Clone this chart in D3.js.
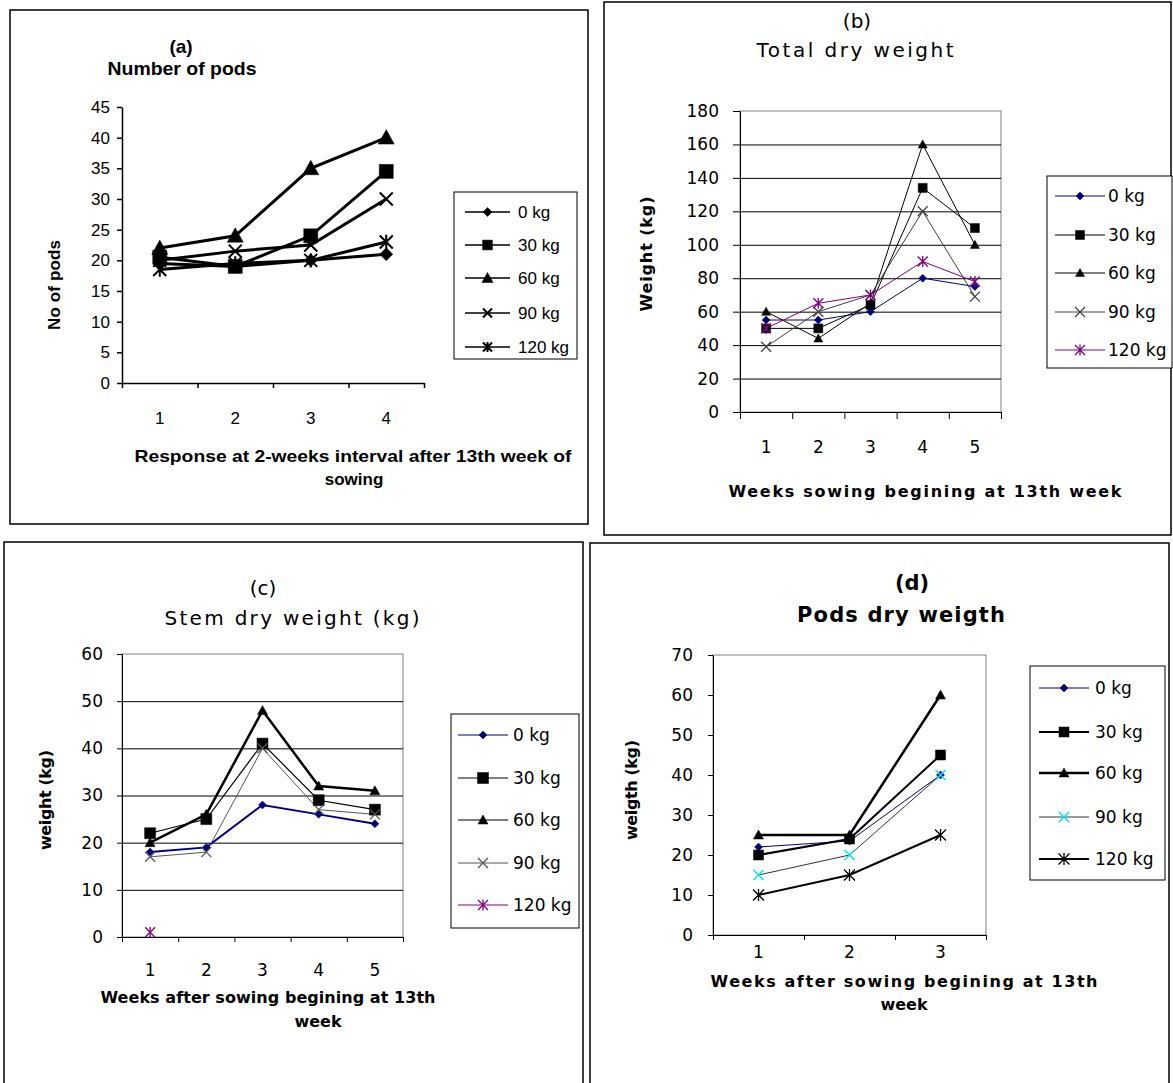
<!DOCTYPE html>
<html>
<head>
<meta charset="utf-8">
<title>Pods and dry weight response to fertiliser</title>
<script src="https://cdn.jsdelivr.net/npm/d3@7"></script>
<style>
body { margin: 0; background: #fff; }
</style>
</head>
<body>
<script>
var W = 1173, H = 1083;

// ---- data ----
var kgLabels = ["0 kg", "30 kg", "60 kg", "90 kg", "120 kg"];

var podsWeeks = ["1", "2", "3", "4"];
var pods0   = [19.5, 19, 20, 21];
var pods30  = [20.5, 19, 24, 34.5];
var pods60  = [22, 24, 35, 40];
var pods90  = [20, 21.5, 22.5, 30];
var pods120 = [18.5, 19.5, 20, 23];

var totalWeeks = ["1", "2", "3", "4", "5"];
var total0   = [55, 55, 60, 80, 75];
var total30  = [50, 50, 64, 134, 110];
var total60  = [60, 44, 65, 160, 100];
var total90  = [39, 60, 70, 120, 69];
var total120 = [50, 65, 70, 90, 78];

var stemWeeks = ["1", "2", "3", "4", "5"];
var stem0   = [18, 19, 28, 26, 24];
var stem30  = [22, 25, 41, 29, 27];
var stem60  = [20, 26, 48, 32, 31];
var stem90  = [17, 18, 40, 27, 26];
var stem120 = [1, null, null, null, null];

var podWtWeeks = ["1", "2", "3"];
var podWt0   = [22, 23.5, 40];
var podWt30  = [20, 24, 45];
var podWt60  = [25, 25, 60];
var podWt90  = [15, 20, 40];
var podWt120 = [10, 15, 25];

// ---- markers ----
var symDiamond = { draw: function(c, s) { var r = Math.sqrt(s) / 2; c.moveTo(0, -r); c.lineTo(r, 0); c.lineTo(0, r); c.lineTo(-r, 0); c.closePath(); } };
var symSquare = { draw: function(c, s) { var r = Math.sqrt(s) / 2; c.rect(-r, -r, 2 * r, 2 * r); } };
var symTriangle = { draw: function(c, s) { var r = Math.sqrt(s) / 2; c.moveTo(0, -r); c.lineTo(r, r * 0.8); c.lineTo(-r, r * 0.8); c.closePath(); } };
var symTimes = { draw: function(c, s) { var r = Math.sqrt(s) / 2; c.moveTo(-r, -r); c.lineTo(r, r); c.moveTo(-r, r); c.lineTo(r, -r); } };
var symStar = { draw: function(c, s) { var r = Math.sqrt(s) / 2; c.moveTo(-r, -r); c.lineTo(r, r); c.moveTo(-r, r); c.lineTo(r, -r); c.moveTo(0, -r * 1.1); c.lineTo(0, r * 1.1); } };
var symbols = [symDiamond, symSquare, symTriangle, symTimes, symStar];
var filled = [true, true, true, false, false];

var fNarrow = "'Liberation Sans Narrow','Liberation Sans',Arial,sans-serif";
var fSans = "'Liberation Sans',Arial,sans-serif";
var fDeja = "'DejaVu Sans',Verdana,sans-serif";

var svg = d3.select("body").append("svg")
    .attr("width", W).attr("height", H);

function addText(g, t) {
    var el = g.append("text")
        .attr("x", t.x).attr("y", t.y)
        .attr("text-anchor", "middle")
        .attr("font-family", t.font)
        .attr("font-size", t.size)
        .attr("font-weight", t.bold ? "bold" : "normal")
        .attr("fill", "#000")
        .text(t.text);
    if (t.rotate) el.attr("transform", "rotate(-90," + t.x + "," + t.y + ")");
    if (t.width) el.attr("textLength", t.width).attr("lengthAdjust", t.squeeze ? "spacingAndGlyphs" : "spacing");
}

function drawMarker(g, i, st, x, y, w) {
    g.append("path")
        .attr("transform", "translate(" + x + "," + y + ")")
        .attr("d", d3.symbol(symbols[i], w * w)())
        .attr("fill", filled[i] ? st.mcolor : "none")
        .attr("stroke", st.mcolor)
        .attr("stroke-width", filled[i] ? 0.5 : (st.mstroke || 1.3));
}

function panel(cfg) {
    var g = svg.append("g");
    var b = cfg.box;
    g.append("rect").attr("x", b[0]).attr("y", b[1]).attr("width", b[2] - b[0]).attr("height", b[3] - b[1])
        .attr("fill", "none").attr("stroke", "#000").attr("stroke-width", 1.5);

    var p = cfg.plot;
    var x = d3.scaleBand().domain(cfg.weeks).range([p[0], p[2]]);
    var xEdge = d3.scaleLinear().domain([0, cfg.weeks.length]).range([p[0], p[2]]);
    var y = d3.scaleLinear().domain([0, cfg.yMax]).range([p[3], p[1]]);
    var yTicks = d3.range(0, cfg.yMax + cfg.yStep / 2, cfg.yStep);

    if (cfg.frame) {
        g.append("rect").attr("x", p[0]).attr("y", p[1]).attr("width", p[2] - p[0]).attr("height", p[3] - p[1])
            .attr("fill", "none").attr("stroke", "#808080").attr("stroke-width", 1);
    }
    if (cfg.grid) {
        var gr = g.append("g").attr("transform", "translate(" + p[0] + ",0)")
            .call(d3.axisLeft(y).tickValues(yTicks.slice(1, -1)).tickSize(-(p[2] - p[0])).tickFormat(""));
        gr.select(".domain").remove();
        gr.selectAll("line").attr("stroke", "#000");
    }

    var ya = g.append("g").attr("transform", "translate(" + p[0] + ",0)")
        .call(d3.axisLeft(y).tickValues(yTicks).tickSize(cfg.tick).tickSizeOuter(0).tickPadding(cfg.yPad));
    ya.selectAll("text").attr("font-family", cfg.tickFont).attr("font-size", cfg.tickSizePx).attr("fill", "#000");
    ya.selectAll("line,path").attr("stroke", "#000").attr("stroke-width", cfg.axisW);

    var xe = g.append("g").attr("transform", "translate(0," + p[3] + ")")
        .call(d3.axisBottom(xEdge).tickValues(d3.range(cfg.weeks.length + 1)).tickFormat("").tickSize(cfg.tick).tickSizeOuter(0));
    xe.selectAll("line,path").attr("stroke", "#000").attr("stroke-width", cfg.axisW);

    var xl = g.append("g").attr("transform", "translate(0," + p[3] + ")")
        .call(d3.axisBottom(x).tickSize(0).tickPadding(cfg.xPad));
    xl.select(".domain").remove();
    xl.selectAll("text").attr("font-family", cfg.tickFont).attr("font-size", cfg.tickSizePx).attr("fill", "#000");

    cfg.texts.forEach(function(t) { addText(g, t); });

    var line = d3.line()
        .defined(function(d) { return d != null; })
        .x(function(d, i) { return x(cfg.weeks[i]) + x.bandwidth() / 2; })
        .y(function(d) { return y(d); });

    cfg.series.forEach(function(vals, i) {
        var st = cfg.styles[i];
        g.append("path").datum(vals).attr("d", line)
            .attr("fill", "none").attr("stroke", st.color).attr("stroke-width", st.width)
            .attr("stroke-linejoin", "miter");
    });
    cfg.series.forEach(function(vals, i) {
        var st = cfg.styles[i];
        vals.forEach(function(v, j) {
            if (v == null) return;
            drawMarker(g, i, st, x(cfg.weeks[j]) + x.bandwidth() / 2, y(v), st.msize);
        });
    });

    var L = cfg.legend;
    g.append("rect").attr("x", L.box[0]).attr("y", L.box[1]).attr("width", L.box[2] - L.box[0]).attr("height", L.box[3] - L.box[1])
        .attr("fill", "#fff").attr("stroke", "#000").attr("stroke-width", 1);
    kgLabels.forEach(function(lab, i) {
        var st = cfg.styles[i], ry = L.rows[i];
        g.append("line").attr("x1", L.line[0]).attr("x2", L.line[1]).attr("y1", ry).attr("y2", ry)
            .attr("stroke", st.color).attr("stroke-width", L.lw ? L.lw : st.width);
        drawMarker(g, i, st, (L.line[0] + L.line[1]) / 2, ry, st.msize * (L.scale || 1));
        g.append("text").attr("x", L.textX).attr("y", ry).attr("dy", "0.36em")
            .attr("font-family", L.font).attr("font-size", L.size).attr("fill", "#000").text(lab);
    });
}

// (a) Number of pods
panel({
    box: [10, 10, 588, 524],
    plot: [122, 107, 424, 383],
    weeks: podsWeeks, yMax: 45, yStep: 5,
    series: [pods0, pods30, pods60, pods90, pods120],
    grid: false, frame: false, tick: 5, yPad: 7, xPad: 29, axisW: 1.5,
    tickFont: fSans, tickSizePx: 17,
    styles: [
        { color: "#000", width: 3, mcolor: "#000", msize: 13 },
        { color: "#000", width: 3, mcolor: "#000", msize: 14 },
        { color: "#000", width: 3, mcolor: "#000", msize: 16 },
        { color: "#000", width: 3, mcolor: "#000", msize: 13, mstroke: 2 },
        { color: "#000", width: 3, mcolor: "#000", msize: 13, mstroke: 2 }
    ],
    texts: [
        { text: "(a)", x: 181, y: 53, size: 19, bold: true, font: fNarrow },
        { text: "Number of pods", x: 182, y: 75, size: 19, bold: true, font: fNarrow, width: 149, squeeze: true },
        { text: "No of pods", x: 60, y: 285, size: 17, bold: true, font: fSans, rotate: true, width: 90 },
        { text: "Response at 2-weeks interval after 13th week of", x: 353, y: 462, size: 17, bold: true, font: fNarrow, width: 437, squeeze: true },
        { text: "sowing", x: 354, y: 485, size: 17, bold: true, font: fNarrow }
    ],
    legend: { box: [454, 192, 577, 359], rows: [212, 245, 278, 313, 347], line: [465, 510], textX: 518,
              font: fSans, size: 17, lw: 1.5, scale: 0.7 }
});

// (b) Total dry weight
panel({
    box: [604, 2, 1171, 535],
    plot: [740, 111, 1001, 412],
    weeks: totalWeeks, yMax: 180, yStep: 20,
    series: [total0, total30, total60, total90, total120],
    grid: true, frame: true, tick: 7, yPad: 14, xPad: 29, axisW: 1,
    tickFont: fDeja, tickSizePx: 17,
    styles: [
        { color: "#000080", width: 1, mcolor: "#000080", msize: 8 },
        { color: "#000", width: 1, mcolor: "#000", msize: 9 },
        { color: "#000", width: 1, mcolor: "#000", msize: 9 },
        { color: "#404040", width: 1, mcolor: "#404040", msize: 10 },
        { color: "#800080", width: 1, mcolor: "#800080", msize: 10 }
    ],
    texts: [
        { text: "(b)", x: 857, y: 28, size: 20, font: fDeja },
        { text: "Total dry weight", x: 855, y: 57, size: 20, font: fDeja, width: 197 },
        { text: "Weight (kg)", x: 652, y: 254, size: 16, bold: true, font: fDeja, rotate: true, width: 115 },
        { text: "Weeks sowing begining  at 13th week", x: 925, y: 497, size: 16, bold: true, font: fDeja, width: 393 }
    ],
    legend: { box: [1047, 176, 1172, 368], rows: [196, 235, 273, 312, 350], line: [1055, 1105], textX: 1108,
              font: fDeja, size: 17, lw: 1.2 }
});

// (c) Stem dry weight
panel({
    box: [4, 542, 583, 1090],
    plot: [122, 654, 403, 937],
    weeks: stemWeeks, yMax: 60, yStep: 10,
    series: [stem0, stem30, stem60, stem90, stem120],
    grid: true, frame: true, tick: 5, yPad: 14, xPad: 27, axisW: 1,
    tickFont: fDeja, tickSizePx: 17,
    styles: [
        { color: "#000080", width: 2, mcolor: "#000080", msize: 8 },
        { color: "#000", width: 1.2, mcolor: "#000", msize: 11 },
        { color: "#000", width: 2.5, mcolor: "#000", msize: 10 },
        { color: "#555", width: 1, mcolor: "#555", msize: 10 },
        { color: "#800080", width: 1, mcolor: "#800080", msize: 10 }
    ],
    texts: [
        { text: "(c)", x: 263, y: 595, size: 20, font: fDeja },
        { text: "Stem dry weight (kg)", x: 292, y: 625, size: 20, font: fDeja, width: 255 },
        { text: "weight (kg)", x: 51, y: 800, size: 16, bold: true, font: fDeja, rotate: true, width: 100 },
        { text: "Weeks after sowing begining at 13th", x: 268, y: 1003, size: 16, bold: true, font: fDeja, width: 335 },
        { text: "week", x: 318, y: 1027, size: 16, bold: true, font: fDeja }
    ],
    legend: { box: [451, 714, 579, 928], rows: [735, 778, 820, 863, 905], line: [458, 508], textX: 513,
              font: fDeja, size: 17, lw: 1.2 }
});

// (d) Pods dry weight
panel({
    box: [590, 543, 1169, 1090],
    plot: [713, 655, 986, 935],
    weeks: podWtWeeks, yMax: 70, yStep: 10,
    series: [podWt0, podWt30, podWt60, podWt90, podWt120],
    grid: false, frame: true, tick: 5, yPad: 15, xPad: 11, axisW: 1,
    tickFont: fDeja, tickSizePx: 17,
    styles: [
        { color: "#000080", width: 1, mcolor: "#000080", msize: 8 },
        { color: "#000", width: 2, mcolor: "#000", msize: 10 },
        { color: "#000", width: 2.5, mcolor: "#000", msize: 10 },
        { color: "#333", width: 1, mcolor: "#00e5ff", msize: 10, mstroke: 1.5 },
        { color: "#000", width: 2, mcolor: "#000", msize: 11 }
    ],
    texts: [
        { text: "(d)", x: 912, y: 590, size: 21, bold: true, font: fDeja },
        { text: "Pods dry weigth", x: 901, y: 622, size: 21, bold: true, font: fDeja, width: 208 },
        { text: "weigth (kg)", x: 637, y: 790, size: 16, bold: true, font: fDeja, rotate: true, width: 100 },
        { text: "Weeks after sowing begining at 13th", x: 904, y: 987, size: 16, bold: true, font: fDeja, width: 387 },
        { text: "week", x: 904, y: 1010, size: 16, bold: true, font: fDeja }
    ],
    legend: { box: [1030, 666, 1165, 880], rows: [688, 732, 773, 817, 859], line: [1039, 1089], textX: 1095,
              font: fDeja, size: 17 }
});
</script>
</body>
</html>
